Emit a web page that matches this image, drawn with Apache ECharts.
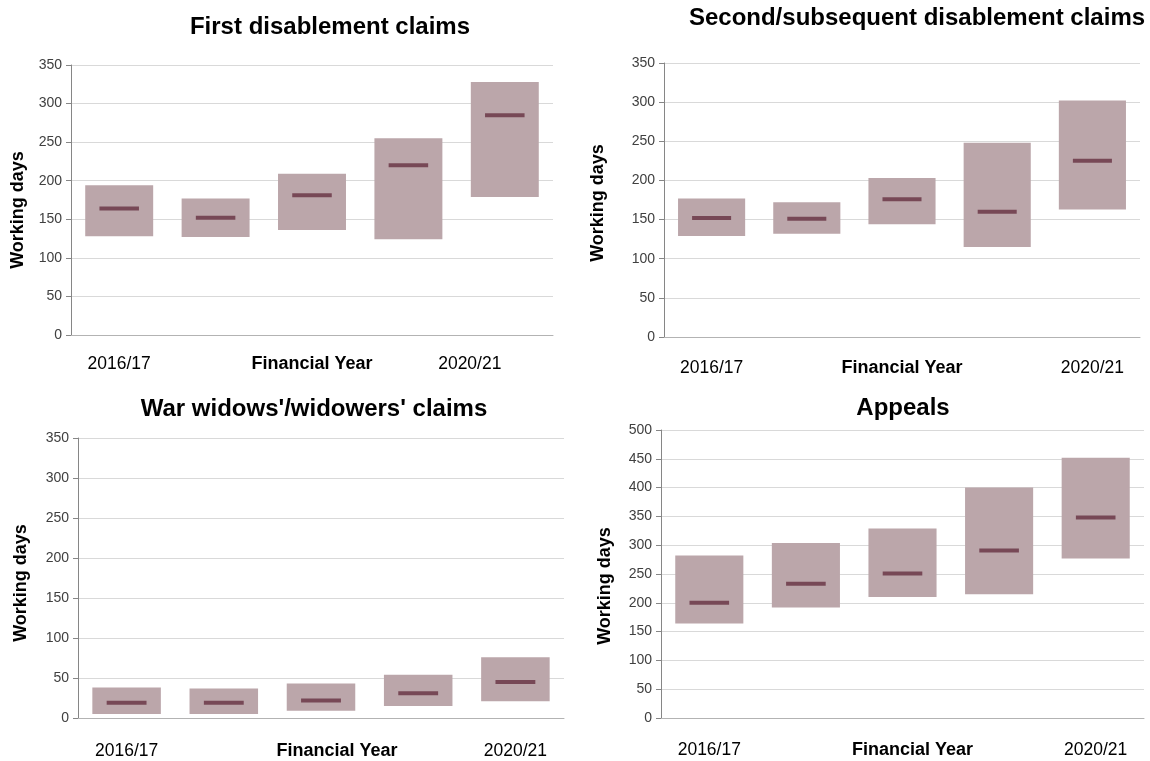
<!DOCTYPE html>
<html>
<head>
<meta charset="utf-8">
<script src="https://cdn.jsdelivr.net/npm/echarts@6/dist/echarts.min.js"></script>
<style>
html,body{margin:0;padding:0;background:#fff;}
#c{width:1150px;height:761px;}
</style>
</head>
<body>
<div id="c"></div>
<script>
// ---- Data (working days: lower bound, upper bound, median) ----
const categories = ['2016/17', '2017/18', '2018/19', '2019/20', '2020/21'];

const titles = ['First disablement claims', 'Second/subsequent disablement claims', "War widows'/widowers' claims", 'Appeals'];

const firstLow    = [128, 127, 136, 124, 179];
const firstHigh   = [194, 177, 209, 255, 328];
const firstMedian = [164, 152, 181, 220, 285];

const secondLow    = [129, 132, 144, 115, 163];
const secondHigh   = [177, 172, 203, 248, 302];
const secondMedian = [152, 151, 176, 160, 225];

const widowLow    = [5, 5, 9, 15, 21];
const widowHigh   = [38, 37, 43, 54, 76];
const widowMedian = [19, 19, 22, 31, 45];

const appealLow    = [164, 192, 210, 215, 277];
const appealHigh   = [282, 304, 329, 400, 452];
const appealMedian = [200, 233, 251, 291, 348];

const yMax = [350, 350, 350, 500];
const yInterval = 50;

// ---- Layout / style ----
const FONT = '"Liberation Sans", Arial, sans-serif';
const BOX = '#bba6aa';
const MED = '#774856';

const grids = [
  {left: 71, top: 65, width: 482, height: 270},
  {left: 664, top: 63, width: 476, height: 274},
  {left: 78, top: 438, width: 486, height: 280},
  {left: 661, top: 430, width: 483, height: 288}
];
const titlePos = [[330, 27], [917, 18], [314, 409], [903, 408]];
const labelMargin = [20, 22, 24, 23];
const yNameGap = [44, 57, 48, 47];
const xNamePad = [[0, 0, 0, 0], [0, 0, 0, 0], [0, 0, 0, 32], [0, 0, 0, 20]];
const yNamePad = [[0, 20, 0, 0], [0, 6, 0, 0], [0, 10, 0, 0], [0, 24, 0, 0]];
const lastLabelShift = [70, 0, 0, 0];

const panels = [
  [firstLow, firstHigh, firstMedian],
  [secondLow, secondHigh, secondMedian],
  [widowLow, widowHigh, widowMedian],
  [appealLow, appealHigh, appealMedian]
];

function renderItem(params, api) {
  const x = api.value(0);
  const lo = api.coord([x, api.value(1)]);
  const hi = api.coord([x, api.value(2)]);
  const md = api.coord([x, api.value(3)]);
  const cw = api.size([1, 0])[0];
  const bw = cw * 0.705;
  const mw = cw * 0.41;
  return {
    type: 'group',
    children: [
      {type: 'rect', shape: {x: lo[0] - bw / 2, y: hi[1], width: bw, height: lo[1] - hi[1]}, style: {fill: BOX}},
      {type: 'rect', shape: {x: md[0] - mw / 2, y: md[1] - 2, width: mw, height: 4}, style: {fill: MED}}
    ]
  };
}

const option = {
  animation: false,
  backgroundColor: '#ffffff',
  textStyle: {fontFamily: FONT},
  title: titles.map((t, i) => ({
    text: t,
    left: titlePos[i][0],
    top: titlePos[i][1],
    textAlign: 'center',
    textVerticalAlign: 'middle',
    padding: 0,
    textStyle: {fontFamily: FONT, fontSize: 24, fontWeight: 'bold', color: '#000'}
  })),
  grid: grids,
  xAxis: grids.map((g, i) => ({
    type: 'category',
    gridIndex: i,
    data: categories,
    name: 'Financial Year',
    nameLocation: 'middle',
    nameGap: labelMargin[i],
    nameMoveOverlap: false,
    nameTextStyle: {fontFamily: FONT, fontSize: 18, fontWeight: 'bold', color: '#000', verticalAlign: 'top', padding: xNamePad[i]},
    axisLine: {show: true, lineStyle: {color: '#b3b3b3', width: 1}},
    axisTick: {show: false},
    splitLine: {show: false},
    axisLabel: {
      interval: 0,
      margin: labelMargin[i],
      fontFamily: FONT,
      fontSize: 17.5,
      color: '#000',
      formatter: function (v, idx) {
        if (idx === 0) return v;
        if (idx === categories.length - 1) return lastLabelShift[i] ? '{s|' + v + '}' : v;
        return '';
      },
      rich: {s: {fontFamily: FONT, fontSize: 17.5, color: '#000', padding: [0, lastLabelShift[i], 0, 0]}}
    }
  })),
  yAxis: grids.map((g, i) => ({
    type: 'value',
    gridIndex: i,
    min: 0,
    max: yMax[i],
    interval: yInterval,
    name: 'Working days',
    nameLocation: 'middle',
    nameGap: yNameGap[i],
    nameMoveOverlap: false,
    nameTextStyle: {fontFamily: FONT, fontSize: 18, fontWeight: 'bold', color: '#000', padding: yNamePad[i]},
    axisLine: {show: true, lineStyle: {color: '#868686', width: 1}},
    axisTick: {show: true, length: 5, lineStyle: {color: '#868686'}},
    axisLabel: {margin: 9, fontFamily: FONT, fontSize: 14, color: '#404040'},
    splitLine: {show: true, lineStyle: {color: '#d9d9d9', width: 1}}
  })),
  series: panels.map((p, i) => ({
    type: 'custom',
    xAxisIndex: i,
    yAxisIndex: i,
    renderItem: renderItem,
    encode: {x: 0, y: [1, 2, 3]},
    data: categories.map((c, k) => [k, p[0][k], p[1][k], p[2][k]])
  }))
};

const chart = echarts.init(document.getElementById('c'), null, {renderer: 'canvas'});
chart.setOption(option);
</script>
</body>
</html>
